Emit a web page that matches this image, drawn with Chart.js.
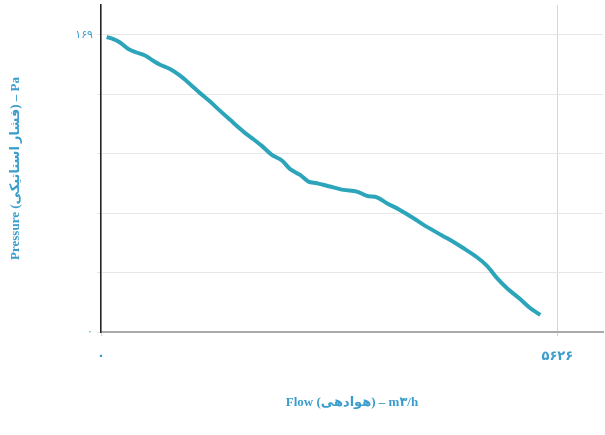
<!DOCTYPE html>
<html>
<head>
<meta charset="utf-8">
<script src="https://cdn.jsdelivr.net/npm/chart.js@4/dist/chart.umd.min.js"></script>
<style>
  html, body { margin: 0; padding: 0; background: #fff; }
  #wrap { width: 605px; height: 435px; }
</style>
</head>
<body>
<div id="wrap"><canvas id="fanChart"></canvas></div>
<script>
// flow (m3/h) and static pressure (Pa)
const flowValues = [70, 152, 234, 337, 440, 543, 645, 728, 851, 975, 1098, 1221, 1345, 1468, 1592, 1715,
  1777, 1879, 1983, 2106, 2230, 2332, 2455, 2558, 2661, 2825, 2989, 3155, 3278, 3402, 3525, 3668,
  3853, 3977, 4142, 4306, 4470, 4635, 4759, 4882, 5006, 5170, 5293, 5416];
const pressureValues = [167.7, 166.5, 164.6, 160.9, 158.9, 157.2, 154.2, 151.9, 149.5, 145.7, 140.9, 135.8,
  131.0, 125.7, 120.6, 115.5, 113.1, 109.6, 105.8, 100.7, 97.5, 92.6, 89.3, 85.5, 84.6, 82.7, 80.8, 79.8,
  77.4, 76.6, 73.2, 69.8, 64.7, 60.9, 56.5, 52.3, 47.6, 42.5, 37.6, 30.6, 24.9, 18.6, 13.5, 9.7];

const maxFlow = 5626;
const maxPressure = 169;
const xTicks = [0, maxFlow];
const yTicks = [0, 33.8, 67.6, 101.4, 135.2, 169];

const xTitle = 'Flow (هوادهی) – m۳/h';
const yTitle = 'Pressure (فشار استاتیکی) – Pa';

const faDigits = '۰۱۲۳۴۵۶۷۸۹';
function toPersian(n) {
    return String(Math.round(n)).replace(/\d/g, d => faDigits[d]);
}

const textColor = '#3a9dcc';
const titleFont = { family: "'Liberation Serif', 'DejaVu Sans', serif", size: 13, weight: 'bold' };

const points = flowValues.map((f, i) => ({ x: f, y: pressureValues[i] }));

const ctx = document.getElementById('fanChart').getContext('2d');
const fanChart = new Chart(ctx, {
    type: 'line',
    data: {
        datasets: [{
            data: points,
            borderColor: '#2ca5bb',
            borderWidth: 4,
            pointRadius: 0,
            tension: 0.3,
            fill: false
        }]
    },
    options: {
        responsive: true,
        maintainAspectRatio: false,
        animation: false,
        layout: { padding: { top: 5, right: 2, left: 0, bottom: 0 } },
        plugins: {
            legend: { display: false },
            tooltip: { enabled: false }
        },
        scales: {
            x: {
                type: 'linear',
                min: 0,
                max: maxFlow * 1.1,
                afterBuildTicks: scale => { scale.ticks = xTicks.map(v => ({ value: v })); },
                afterFit: scale => { scale.height = 103; },
                border: { color: '#aaaaaa', width: 2 },
                grid: { color: '#d6d6d6', tickLength: 4 },
                ticks: {
                    padding: 13,
                    maxRotation: 0,
                    color: textColor,
                    font: { family: "'DejaVu Sans'", size: 13, weight: 'bold' },
                    callback: v => toPersian(v)
                },
                title: {
                    display: true,
                    text: xTitle,
                    color: textColor,
                    font: titleFont,
                    padding: { top: 0, bottom: 25 }
                }
            },
            y: {
                min: 0,
                max: maxPressure * 1.1,
                afterBuildTicks: scale => { scale.ticks = yTicks.map(v => ({ value: v })); },
                afterFit: scale => {
                    scale.width = 101;
                    scale.paddingTop = 0;
                    scale.paddingBottom = 0;
                },
                border: { color: '#222222', width: 1.5 },
                grid: { color: '#e6e6e6', tickLength: 4 },
                ticks: {
                    padding: 4,
                    color: textColor,
                    font: { family: "'DejaVu Sans'", size: 11 },
                    callback: (v, i, all) => (i === 0 || i === all.length - 1) ? toPersian(v) : ''
                },
                title: {
                    display: true,
                    text: yTitle,
                    color: textColor,
                    font: titleFont,
                    padding: { top: 8, bottom: 0 }
                }
            }
        }
    }
});
</script>
</body>
</html>
